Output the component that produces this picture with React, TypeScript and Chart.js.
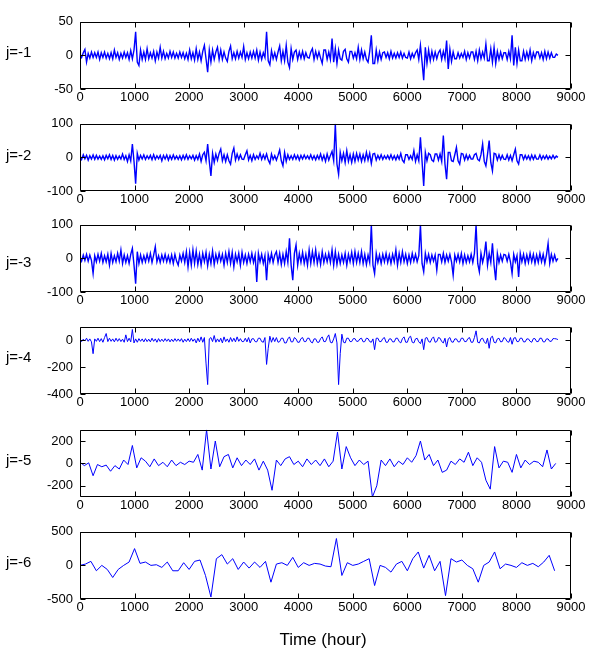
import React, { useEffect, useRef } from "react";
import { Chart, registerables } from "chart.js";

Chart.register(...registerables);

// ---- data ----
const xTickValues = [0, 1000, 2000, 3000, 4000, 5000, 6000, 7000, 8000, 9000];

const j1Step = 30;
const j1Values = [
  2, -3, 4, 9, -10, 3, -4, 5, -3, 4,
  -3, 5, -6, 4, -3, 5, -4, 3, -5, 4,
  -5, 8, -3, 4, -6, 3, -4, 5, -3, 4,
  -6, 7, -5, 8, 35, -10, -15, 8, -6, 5,
  -6, 10, -5, 4, -4, 6, -8, 5, -4, 12,
  -4, 6, -5, 3, -4, 6, -3, 5, -4, 3,
  -4, 5, -3, 4, -5, 3, -6, 8, -5, 4,
  -7, 10, -6, 5, -8, 6, 15, -5, -25, 8,
  -10, 8, -6, 5, 12, -6, 8, -6, 5, -4,
  -9, 6, 14, -5, 4, -5, 6, -4, 5, -3,
  13, -6, 4, -5, 5, -4, 6, -4, 8, -7,
  5, -6, 4, -3, 35, -8, -14, 7, -5, 4,
  -6, 5, 14, -8, 6, -8, 15, -10, -18, 10,
  -6, 5, 8, -6, 5, -4, 6, -5, 4, -3,
  -4, 5, 10, -6, 6, -4, 5, -4, -12, 8,
  8, -6, 5, -6, 25, -10, 10, -12, 8, -5,
  -7, 6, 9, -5, -10, 6, 6, -4, 4, -5,
  12, -6, 8, -5, 5, -6, -10, 6, 30, -12,
  -12, 8, -8, 5, -6, 4, 5, -3, 4, -5,
  6, -4, 3, -4, 4, -3, 5, -4, 3, -3,
  -4, 5, -5, 3, -3, 4, 8, -6, 15, -10,
  -37, 12, -12, 8, -8, 6, -6, 5, -5, 4,
  8, -6, 6, -5, 22, -20, 9, -9, 5, -5,
  -5, 4, -4, 3, -3, 6, -6, 4, -4, 5,
  5, -6, 6, -8, 8, -5, 5, -4, 17, -8,
  -8, 10, -10, 12, -12, 6, -6, 5, -5, 4,
  4, -6, 6, -5, 30, -15, 12, -12, 8, -8,
  -8, 6, -6, 5, -5, 8, -8, 4, -4, 5,
  5, -4, 4, -6, 6, -5, 5, -4, 4, -3,
  -3, 2, 0,
];
const j1Ticks = [-50, 0, 50];

const j2Step = 30;
const j2Values = [
  5, -6, 8, -4, 6, -8, 5, -5, 7, -6,
  6, -5, 4, -6, 5, -7, 6, -4, 8, -6,
  6, -8, 5, -6, 4, -5, 10, -6, 5, -12,
  8, -10, 40, -12, -78, 12, -8, 6, -5, 7,
  -6, 5, -4, 6, -7, 8, -6, 5, -4, 6,
  -10, 6, -5, 7, -8, 5, -6, 7, -5, 4,
  -6, 5, -7, 6, -5, 8, -6, 5, -4, 6,
  -8, 5, -6, 10, -12, 8, 15, -10, 40, -12,
  -55, 12, -15, 10, -8, 12, 25, -10, 8, -12,
  8, -10, -20, 12, 28, -8, 10, -6, 8, -5,
  -6, 8, 20, -8, 6, -10, 8, -6, 5, -4,
  12, -6, 8, -5, 10, -8, -18, 10, -6, 5,
  -8, 6, 22, -10, -25, 15, -12, 8, -6, 5,
  -6, 8, -5, 6, -8, 6, -5, 7, -4, 5,
  -5, 8, -6, 5, -7, 6, -5, 10, -8, 6,
  -12, 10, -8, 6, 18, -10, 100, -20, -50, 15,
  -10, 12, -15, 20, -12, 8, -15, 10, -12, 12,
  -8, 10, -12, 8, -10, 15, -8, 12, -18, 10,
  12, -8, 6, -5, 8, -6, 5, -4, 6, -5,
  8, -6, 5, -7, 6, -5, 12, -8, -15, 8,
  8, -6, 5, -6, 20, -12, 8, -10, 60, -12,
  -85, 15, -10, 12, 8, -8, -12, 10, 10, -8,
  10, -12, 65, -20, -65, 15, 15, -10, -12, 8,
  30, -10, -20, 12, 10, -8, 8, -6, 6, -5,
  -5, 8, 12, -6, -10, 8, 40, -12, -25, 10,
  50, -15, -40, 12, 10, -8, 8, -6, 6, -5,
  -6, 8, -8, 6, -10, 8, 25, -10, -20, 8,
  8, -6, 6, -5, 5, -7, 7, -6, 6, -5,
  -5, 7, -6, 5, -4, 6, -5, 4, -4, 6,
  -3, 4, 0,
];
const j2Ticks = [-100, 0, 100];

const j3Step = 30;
const j3Values = [
  5, -8, 10, -6, 12, -8, 10, -6, -45, 8,
  -10, 12, -8, 15, -12, 8, -10, 12, -20, 15,
  -12, 8, -10, 15, -8, 25, -15, 10, -12, 8,
  -15, 12, 30, -20, -75, 20, -15, 10, -12, 8,
  -10, 12, -8, 15, -12, 10, 35, -10, 8, -12,
  10, -8, 12, -10, 8, -12, 10, -15, 12, -8,
  -20, 10, -8, 15, -12, 20, -25, 18, -20, 25,
  -15, 22, -18, 12, -20, 15, -10, 18, -22, 12,
  -15, 22, -18, 12, -10, 15, -8, 12, -20, 15,
  -12, 20, -15, 18, -25, 12, -10, 15, -20, 18,
  -12, 10, -15, 12, -10, 15, -12, 10, -70, 15,
  -10, 12, -15, 8, -65, 12, -10, 15, -12, 10,
  20, -12, 15, -18, 12, -15, 20, -12, 60, -20,
  -65, 15, 40, -20, 15, -12, 18, -15, 12, -20,
  25, -15, 20, -12, 25, -15, 12, -18, 20, -12,
  12, -10, 15, -12, 25, -20, 20, -18, 12, -15,
  10, -12, 15, -20, 12, -10, 18, -15, 20, -12,
  15, -12, 20, -15, 12, -18, 10, -12, 100, -20,
  -45, 15, -12, 10, -15, 12, -10, 15, -12, 10,
  -15, 12, -10, 25, -20, 15, -12, 20, -10, 12,
  -15, 10, -12, 15, -8, 12, -10, 8, 100, -15,
  -40, 15, -10, 12, -12, 10, -8, 10, -35, 12,
  12, -10, 15, -12, 10, -8, 12, -10, -50, 10,
  -8, 12, -10, 15, -15, 10, -12, 8, -10, 12,
  -12, 15, 100, -15, -40, 15, -12, 10, 50, -20,
  15, -12, 45, -20, -65, 15, -12, 10, -8, 12,
  10, -8, 12, -10, -45, 12, -10, 8, -55, 15,
  -10, 12, -15, 10, -12, 15, -10, 12, -15, 10,
  -12, 15, -10, 12, -15, 10, 45, -15, 12, -8,
  10, -8, 0,
];
const j3Ticks = [-100, 0, 100];

const j4Step = 30;
const j4Values = [
  5, -10, 8, -5, 15, -8, 10, -12, -100, 10,
  -8, 15, -10, 12, -15, 20, 50, -10, 15, -8,
  10, -12, 15, -8, 12, -10, 8, -15, 40, -10,
  15, -12, 80, -20, 10, -15, 12, -8, 10, -12,
  12, -10, 8, -12, 15, -8, 10, -15, 12, -10,
  8, -10, 12, -8, 10, -12, 8, -10, 12, -8,
  10, -8, 12, -15, 8, -10, 12, -10, 15, -8,
  10, -20, 15, -12, 25, -15, 20, -170, -330, 10,
  20, -10, 35, -15, 10, -12, 15, -20, 25, -10,
  10, -15, 20, -10, 15, -12, 25, -8, 12, -10,
  -10, 15, -12, 20, -20, 10, 12, -10, -12, 15,
  15, -10, -15, 20, -180, -60, 30, -15, 20, -10,
  20, -15, -10, 15, 15, -20, -20, 10, 25, -12,
  -12, 20, 10, -15, -15, 12, 20, -10, -10, 15,
  15, -12, -20, 10, 10, -15, -15, 12, 25, -10,
  -10, 20, 40, -15, -20, 10, 50, -20, -330, -100,
  45, -15, -20, 15, 15, -10, -10, 12, 12, -8,
  -8, 10, 15, -12, -10, 15, 12, -10, -15, 10,
  -70, 15, 15, -10, -10, 12, 20, -15, -15, 10,
  10, -12, -12, 15, 15, -10, -20, 12, 25, -15,
  -15, 20, 30, -15, -20, 10, 15, -12, -25, 10,
  -70, 15, 20, -10, -15, 12, 25, -15, -10, 20,
  15, -10, -20, 15, -50, 10, 20, -12, -15, 10,
  10, -12, -12, 15, 15, -10, -10, 12, 20, -15,
  -15, 20, 70, -15, -20, 10, 15, -12, -25, 15,
  -60, 20, 30, -15, -20, 10, 15, -12, -10, 20,
  12, -10, -15, 20, -30, 15, 20, -10, -10, 15,
  15, -12, -12, 10, 10, -8, -15, 12, 12, -10,
  -10, 15, 15, -12, -12, 10, 10, -8, -8, 12,
  12, 10, 5,
];
const j4Ticks = [-400, -200, 0];

const j5Step = 80;
const j5Values = [
  10, -20, 5, -110, -10, -30, -15, -70, -20, -50,
  30, -10, 160, -40, 50, 20, -30, 40, -20, 10,
  -30, 30, -20, 10, -10, 20, 10, 80, -60, 300,
  -50, 200, -30, 60, 80, -40, 50, -20, 30, -10,
  40, -60, 20, -60, -240, 30, -20, 40, 60, -10,
  20, -30, 40, -10, 30, -20, 40, -30, 20, 280,
  -50, 150, 50, -20, 30, -10, 20, -300, -200, 30,
  -20, 40, -30, 20, -10, 50, 10, 70, 200, 30,
  80, -20, 30, -80, -60, 20, -10, 40, 10, 100,
  -20, 50, 10, -150, -230, 150, -40, 20, 10, -80,
  80, -40, 30, -10, 20, 10, -30, 120, -50, 0,
];
const j5Ticks = [-200, 0, 200];

const j6Step = 100;
const j6Values = [
  0, 20, 60, -80, 0, -60, -180, -60, 0, 50,
  250, 30, 50, 0, 10, -30, 50, -80, -80, 40,
  -60, 60, 80, -150, -470, 100, 160, 20, 100, -60,
  50, -40, 50, -30, 60, -250, 20, 40, 0, 120,
  -30, 40, 0, 30, 20, -10, -20, 400, -150, 40,
  0, 20, 60, 100, -300, 0, -30, -100, 20, 60,
  -80, 100, 200, -40, 150, -80, 60, -450, 100, 50,
  80, 0, -50, -250, 0, 50, 200, -50, 20, 0,
  -30, 40, 0, 30, -20, 50, 150, -80,
];
const j6Ticks = [-500, 0, 500];

const panelLabels = ["j=-1", "j=-2", "j=-3", "j=-4", "j=-5", "j=-6"];
const xTitle = "Time (hour)";

// ---- layout / style ----
const FONT = '"Liberation Sans", Arial, sans-serif';
const LINE_COLOR = "#0000ff";

const panels = [
  { label: panelLabels[0], values: j1Values, step: j1Step, min: -50, max: 50, ticks: j1Ticks, top: 12, labelY: 52, lw: 1.4 },
  { label: panelLabels[1], values: j2Values, step: j2Step, min: -100, max: 100, ticks: j2Ticks, top: 114, labelY: 155, lw: 1.4 },
  { label: panelLabels[2], values: j3Values, step: j3Step, min: -100, max: 100, ticks: j3Ticks, top: 215, labelY: 262, lw: 1.4 },
  { label: panelLabels[3], values: j4Values, step: j4Step, min: -400, max: 100, ticks: j4Ticks, top: 317, labelY: 357, lw: 1 },
  { label: panelLabels[4], values: j5Values, step: j5Step, min: -300, max: 300, ticks: j5Ticks, top: 420, labelY: 460, lw: 1 },
  { label: panelLabels[5], values: j6Values, step: j6Step, min: -500, max: 500, ticks: j6Ticks, top: 522, labelY: 562, lw: 1 },
];

const framePlugin = {
  id: "frame",
  afterDraw(chart: any) {
    const { ctx, chartArea: a, scales } = chart;
    const L = Math.round(a.left) + 0.5;
    const R = Math.round(a.right) - 0.5;
    const T = Math.round(a.top) + 0.5;
    const B = Math.round(a.bottom) - 0.5;
    const tl = 5;
    ctx.save();
    ctx.strokeStyle = "#000";
    ctx.lineWidth = 1;
    ctx.beginPath();
    ctx.rect(L, T, R - L, B - T);
    for (const t of scales.x.ticks) {
      const px = Math.round(scales.x.getPixelForValue(t.value)) + 0.5;
      ctx.moveTo(px, B);
      ctx.lineTo(px, B - tl);
      ctx.moveTo(px, T);
      ctx.lineTo(px, T + tl);
    }
    for (const t of scales.y.ticks) {
      const py = Math.round(scales.y.getPixelForValue(t.value)) + 0.5;
      ctx.moveTo(L, py);
      ctx.lineTo(L + tl, py);
      ctx.moveTo(R, py);
      ctx.lineTo(R - tl, py);
    }
    ctx.stroke();
    ctx.restore();
  },
};

function Panel({ p }: { p: any }) {
  const ref = useRef<HTMLCanvasElement | null>(null);
  useEffect(() => {
    if (!ref.current) return;
    const chart = new Chart(ref.current, {
      type: "line",
      data: {
        datasets: [
          {
            data: p.values.map((v: number, i: number) => ({ x: i * p.step, y: v })),
            borderColor: LINE_COLOR,
            borderWidth: p.lw,
            pointRadius: 0,
            tension: 0,
            fill: false,
          },
        ],
      },
      options: {
        animation: false,
        responsive: false,
        maintainAspectRatio: false,
        layout: { padding: { left: 0, right: 23, top: 5, bottom: 0 } },
        plugins: { legend: { display: false }, tooltip: { enabled: false } },
        scales: {
          x: {
            type: "linear",
            min: 0,
            max: 9000,
            afterBuildTicks: (s: any) => {
              s.ticks = xTickValues.map((v) => ({ value: v }));
            },
            afterFit: (s: any) => {
              s.height = 20;
            },
            grid: { display: false, drawTicks: false },
            border: { display: false },
            ticks: {
              autoSkip: false,
              maxRotation: 0,
              padding: 1,
              color: "#000",
              font: { family: FONT, size: 13 },
              callback: (v: any) => String(v),
            },
          },
          y: {
            type: "linear",
            min: p.min,
            max: p.max,
            afterBuildTicks: (s: any) => {
              s.ticks = p.ticks.map((v: number) => ({ value: v }));
            },
            afterFit: (s: any) => {
              s.width = 80;
            },
            grid: { display: false, drawTicks: false },
            border: { display: false },
            ticks: {
              padding: 7,
              color: "#000",
              font: { family: FONT, size: 13 },
              callback: (v: any) => String(v),
            },
          },
        },
      } as any,
      plugins: [framePlugin],
    });
    return () => chart.destroy();
  }, [p]);
  return (
    <canvas
      ref={ref}
      width={594}
      height={102}
      style={{ position: "absolute", left: 0, top: p.top - 5, width: 594, height: 102 }}
    />
  );
}

export default function App() {
  return (
    <div
      style={{
        position: "fixed",
        left: 0,
        top: 0,
        width: 594,
        height: 651,
        background: "#fff",
        fontFamily: FONT,
      }}
    >
      {panels.map((p, i) => (
        <React.Fragment key={i}>
          <Panel p={p} />
          <div
            style={{
              position: "absolute",
              left: 6,
              top: p.labelY - 9,
              fontSize: 15,
              lineHeight: "18px",
              color: "#000",
            }}
          >
            {p.label}
          </div>
        </React.Fragment>
      ))}
      <div
        style={{
          position: "absolute",
          left: 0,
          width: 646,
          top: 630,
          textAlign: "center",
          fontSize: 17,
          lineHeight: "20px",
          color: "#000",
        }}
      >
        {xTitle}
      </div>
    </div>
  );
}
